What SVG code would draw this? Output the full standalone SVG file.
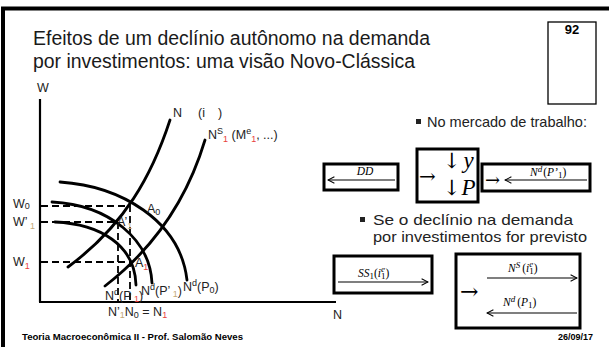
<svg xmlns="http://www.w3.org/2000/svg" width="609" height="347" viewBox="0 0 609 347">
<style>
.frame{fill:none;stroke:#000;stroke-width:4}
.title{font-family:"Liberation Sans",Arial,sans-serif;font-size:20px;fill:#1a1a1a}
.lbl{font-family:"Liberation Sans",Arial,sans-serif;font-size:12.5px;fill:#222}
.sm{font-size:9px}
.curve{fill:none;stroke:#000;stroke-width:2.8;stroke-linecap:round}
.dash{fill:none;stroke:#000;stroke-width:1.8;stroke-dasharray:7 4}
.axis{stroke:#000;stroke-width:2.2}
.box{fill:#fff;stroke:#000;stroke-width:3}
.math{font-family:"Liberation Serif","Times New Roman",serif;font-style:italic;font-size:11.5px;fill:#000}
.up{font-style:normal}
.glyph{font-family:"DejaVu Serif","Liberation Serif",serif;fill:#000}
.arr{stroke:#000;stroke-width:1.2;fill:none}
.red{fill:#e8413c}
.tan{fill:#c3a878}
.body{font-family:"Liberation Sans",Arial,sans-serif;font-size:15px;fill:#222}
.foot{font-family:"Liberation Sans",Arial,sans-serif;font-size:9px;font-weight:bold;fill:#000}
</style>
<defs>
<marker id="ah" viewBox="0 0 10 10" refX="9" refY="5" markerWidth="8" markerHeight="8" markerUnits="userSpaceOnUse" orient="auto"><path d="M1,1 L9,5 L1,9" fill="none" stroke="#000" stroke-width="1.3"/></marker>
</defs>

<g id="frame">
<path class="frame" d="M3,347 L3,8.5 L609,8.5"/>
</g>

<g id="title">
<text class="title" x="33" y="45" textLength="397" lengthAdjust="spacingAndGlyphs">Efeitos de um declínio autônomo na demanda</text>
<text class="title" x="33" y="68" textLength="382" lengthAdjust="spacingAndGlyphs">por investimentos: uma visão Novo-Clássica</text>
</g>

<g id="slide-number">
<rect x="548" y="22" width="48" height="82" fill="#fff" stroke="#000" stroke-width="1.3"/>
<text x="572" y="34" text-anchor="middle" font-family="Liberation Sans, Arial, sans-serif" font-size="13" font-weight="bold">92</text>
</g>

<g id="axes">
<line class="axis" x1="40" y1="99" x2="40" y2="302"/>
<line class="axis" x1="39" y1="302" x2="336" y2="302"/>
<text class="lbl" x="37" y="92">W</text>
<text class="lbl" x="333" y="319">N</text>
</g>

<g id="connectors">
<path class="dash" d="M41,206 H130 V302"/>
<path class="dash" d="M41,222 H118 V302"/>
<path class="dash" d="M41,262 H130"/>
</g>

<g id="curve-Ns0">
<path class="curve" d="M170,120 C152,175 125,225 68,267"/>
<text class="lbl" x="173" y="117">N</text>
<text class="lbl" x="198" y="117">(i</text>
<text class="lbl" x="218" y="117">)</text>
</g>

<g id="curve-Ns1">
<path class="curve" d="M205,140 C190,190 162,242 105,286"/>
<text class="lbl" x="208" y="139" font-size="13.5">N<tspan class="sm" dy="-5">S</tspan><tspan class="sm red" dy="8">1</tspan><tspan dy="-3"> (M</tspan><tspan class="sm" dy="-5">e</tspan><tspan class="sm red" dy="8">1</tspan><tspan dy="-3">, ...)</tspan></text>
</g>

<g id="curve-NdP0">
<path class="curve" d="M60,182 C120,186 180,220 187,280"/>
<text class="lbl" x="183" y="291">N<tspan class="sm" dy="-5">d</tspan><tspan dy="5">(P</tspan><tspan class="sm" dy="2">0</tspan><tspan dy="-2">)</tspan></text>
</g>

<g id="curve-NdP1prime">
<path class="curve" d="M52,202 C110,205 150,240 152,283"/>
<text class="lbl" x="141" y="295">N<tspan class="sm" dy="-5">d</tspan><tspan dy="5">(P’</tspan><tspan class="sm tan" dy="2"> 1</tspan><tspan dy="-2">)</tspan></text>
</g>

<g id="curve-NdP1">
<path class="curve" d="M55,222 C100,224 135,245 136,285"/>
<text class="lbl" x="105" y="300">N<tspan class="sm" dy="-5">d</tspan><tspan dy="5">(P</tspan><tspan class="sm red" dy="2"> 1</tspan><tspan dy="-2">)</tspan></text>
</g>

<g id="point-A0">
<text class="lbl" x="147" y="213">A<tspan class="sm" dy="2">0</tspan></text>
</g>
<g id="point-A1prime">
<text class="lbl" x="117" y="226">A’<tspan class="sm tan" dy="3">1</tspan></text>
</g>
<g id="point-A1">
<text class="lbl" x="135" y="267">A<tspan class="sm red" dy="3">1</tspan></text>
</g>

<g id="w-labels">
<text class="lbl" x="13" y="208">W<tspan class="sm" dy="1">0</tspan></text>
<text class="lbl" x="13" y="226">W’<tspan class="sm tan" dy="3"> 1</tspan></text>
<text class="lbl" x="13" y="266">W<tspan class="sm red" dy="3">1</tspan></text>
</g>

<g id="n-labels">
<text class="lbl" x="108" y="316">N’<tspan class="sm tan" dy="2">1</tspan><tspan dy="-2">N</tspan><tspan class="sm" dy="2">0</tspan><tspan dy="-2"> = N</tspan><tspan class="sm red" dy="2">1</tspan></text>
</g>

<g id="bullet-1">
<rect x="416" y="119" width="5" height="5" fill="#222"/>
<text class="body" x="427" y="127" textLength="160" lengthAdjust="spacingAndGlyphs">No mercado de trabalho:</text>
</g>

<g id="box-DD">
<rect class="box" x="324" y="164" width="74" height="26"/>
<line class="arr" x1="395" y1="180" x2="328" y2="180" marker-end="url(#ah)"/>
<text class="math" x="365" y="175" text-anchor="middle">DD</text>
</g>

<g id="box-yP">
<rect class="box" x="417" y="149" width="61" height="53"/>
<text class="glyph" x="419" y="183" font-size="20">→</text>
<text class="glyph" x="443" y="168" font-size="21">↓<tspan font-family="Liberation Serif, serif" font-style="italic" font-size="23" dx="3">y</tspan></text>
<text class="glyph" x="443" y="195" font-size="21">↓<tspan font-family="Liberation Serif, serif" font-style="italic" font-size="23" dx="1">P</tspan></text>
</g>

<g id="box-Nd-P1prime">
<rect class="box" x="482" y="164" width="108" height="27"/>
<text class="glyph" x="485" y="186" font-size="18">→</text>
<line class="arr" x1="587" y1="180" x2="505" y2="180" marker-end="url(#ah)"/>
<text class="math" x="530" y="176">N<tspan class="sm" dy="-4">d</tspan><tspan class="up" dy="4" dx="1">(</tspan>P’<tspan class="sm up" dy="2">1</tspan><tspan class="up" dy="-2">)</tspan></text>
</g>

<g id="bullet-2">
<rect x="360" y="217" width="5" height="5" fill="#222"/>
<text class="body" x="373" y="225" textLength="200" lengthAdjust="spacingAndGlyphs">Se o declínio na demanda</text>
<text class="body" x="373" y="242" textLength="214" lengthAdjust="spacingAndGlyphs">por investimentos for previsto</text>
</g>

<g id="box-SS1">
<rect class="box" x="334" y="256" width="98" height="37"/>
<line class="arr" x1="338" y1="282" x2="428" y2="282" marker-end="url(#ah)"/>
<text class="math" x="358" y="277">SS<tspan class="sm up" dy="2">1</tspan><tspan class="up" dy="-2">(</tspan>i<tspan class="sm" dy="-5">e</tspan><tspan class="sm up" dx="-4" dy="7">1</tspan><tspan class="up" dy="-2">)</tspan></text>
</g>

<g id="box-NS-Nd">
<rect class="box" x="456" y="254" width="124" height="74"/>
<text class="glyph" x="460" y="299" font-size="22">→</text>
<line class="arr" x1="487" y1="278" x2="577" y2="278" marker-end="url(#ah)"/>
<text class="math" x="508" y="272">N<tspan class="sm" dy="-4">S</tspan><tspan class="up" dy="4" dx="2">(</tspan>i<tspan class="sm" dy="-5">e</tspan><tspan class="sm up" dx="-4" dy="7">1</tspan><tspan class="up" dy="-2">)</tspan></text>
<line class="arr" x1="577" y1="313" x2="487" y2="313" marker-end="url(#ah)"/>
<text class="math" x="503" y="306">N<tspan class="sm" dy="-4">d</tspan><tspan class="up" dy="4" dx="2">(</tspan>P<tspan class="sm up" dy="2">1</tspan><tspan class="up" dy="-2">)</tspan></text>
</g>

<g id="footer">
<text class="foot" x="22" y="340" textLength="221" lengthAdjust="spacingAndGlyphs">Teoria Macroeconômica II - Prof. Salomão Neves</text>
<text class="foot" x="593" y="340" text-anchor="end">26/09/17</text>
</g>
</svg>
